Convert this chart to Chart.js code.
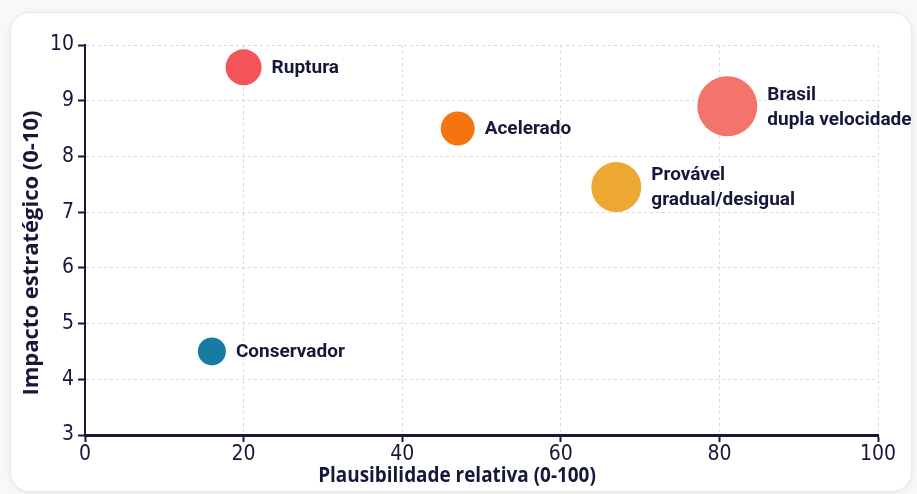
<!DOCTYPE html>
<html lang="pt-BR">
<head>
<meta charset="utf-8">
<title>Cenários: plausibilidade x impacto</title>
<script src="https://cdn.jsdelivr.net/npm/chart.js@4.4.1/dist/chart.umd.min.js"></script>
<style>
  html, body { margin: 0; padding: 0; background: #f8f8f9; }
  body { width: 917px; height: 494px; position: relative; overflow: hidden; }
  .card {
    position: absolute; left: 10px; top: 12px; width: 900px; height: 478px;
    background: #ffffff; border: 1px solid #e9e9ec; border-radius: 20px;
    box-shadow: 0 1px 6px rgba(0,0,0,0.07);
  }
  canvas { position: absolute; left: 0; top: 0; }
</style>
</head>
<body>
<div class="card"></div>
<canvas id="chart" width="917" height="494"></canvas>
<script>
// Cenários
const scenarios = ['Ruptura', 'Acelerado', 'Brasil\ndupla velocidade', 'Provável\ngradual/desigual', 'Conservador'];
// Plausibilidade relativa (0-100)
const plausibility = [20, 47, 81, 67, 16];
// Impacto estratégico (0-10)
const impact = [9.6, 8.5, 8.9, 7.45, 4.5];
// Tamanho da bolha (px)
const bubbleSize = [18, 17, 30, 25, 14];
const colors = ['#f3545a', '#f4740f', '#f3746a', '#eda733', '#177ba2'];

const xTicks = [0, 20, 40, 60, 80, 100];
const yTicks = [3, 4, 5, 6, 7, 8, 9, 10];

const ink = '#16183a';
const labelFont = '700 19px Roboto, "Noto Sans", sans-serif';
const titleFont = '700 22px "Open Sans", "Noto Sans", sans-serif';
const tickFont = { family: '"Liberation Sans Narrow", "DejaVu Sans Condensed", Roboto, sans-serif', size: 21 };

const points = scenarios.map((name, i) => ({ x: plausibility[i], y: impact[i], r: bubbleSize[i] }));

// Rótulos ao lado de cada bolha (uma ou duas linhas)
const bubbleLabels = {
  id: 'bubbleLabels',
  afterDatasetsDraw(chart) {
    const ctx = chart.ctx;
    const meta = chart.getDatasetMeta(0);
    ctx.save();
    ctx.font = labelFont;
    ctx.fillStyle = ink;
    ctx.textAlign = 'left';
    ctx.textBaseline = 'middle';
    meta.data.forEach((el, i) => {
      const lines = scenarios[i].split('\n');
      const r = el.options.radius;
      const lh = 25;
      const x = el.x + r + 10;
      const y0 = el.y - (lines.length - 1) * lh / 2 + 1;
      lines.forEach((t, k) => ctx.fillText(t, x, y0 + k * lh));
    });
    ctx.restore();
  }
};

// Títulos dos eixos (o do eixo X em versão estreita)
const axisTitles = {
  id: 'axisTitles',
  afterDraw(chart) {
    const ctx = chart.ctx;
    ctx.save();
    ctx.font = titleFont;
    ctx.fillStyle = ink;
    ctx.textAlign = 'center';
    ctx.textBaseline = 'middle';
    ctx.save();
    ctx.translate(457, 476);
    ctx.scale(0.86, 1);
    ctx.fillText('Plausibilidade relativa (0-100)', 0, 0);
    ctx.restore();
    ctx.translate(32, 253);
    ctx.rotate(-Math.PI / 2);
    ctx.fillText('Impacto estratégico (0-10)', 0, 0);
    ctx.restore();
  }
};

const gridStyle = {
  color: '#dadade', lineWidth: 1,
  tickColor: ink, tickLength: 7, tickWidth: 2, tickBorderDash: []
};

new Chart(document.getElementById('chart'), {
  type: 'bubble',
  data: {
    datasets: [{
      data: points,
      backgroundColor: colors,
      borderColor: colors,
      borderWidth: 0,
      hoverRadius: 0
    }]
  },
  options: {
    responsive: false,
    animation: false,
    events: [],
    layout: { padding: { left: 0, top: 45, right: 39, bottom: 0 } },
    plugins: { legend: { display: false }, tooltip: { enabled: false } },
    scales: {
      x: {
        type: 'linear',
        min: 0, max: 100,
        afterBuildTicks(s) { s.ticks = xTicks.map(v => ({ value: v })); },
        afterFit(s) { s.height = 59; },
        ticks: { color: ink, font: tickFont, padding: 0 },
        grid: gridStyle,
        border: { display: true, color: ink, width: 3, dash: [3, 3] }
      },
      y: {
        type: 'linear',
        min: 3, max: 10,
        afterBuildTicks(s) { s.ticks = yTicks.map(v => ({ value: v })); },
        afterFit(s) { s.width = 85; },
        ticks: { color: ink, font: tickFont, padding: 4 },
        grid: gridStyle,
        border: { display: true, color: ink, width: 2, dash: [3, 3] }
      }
    }
  },
  plugins: [bubbleLabels, axisTitles]
});
</script>
</body>
</html>
